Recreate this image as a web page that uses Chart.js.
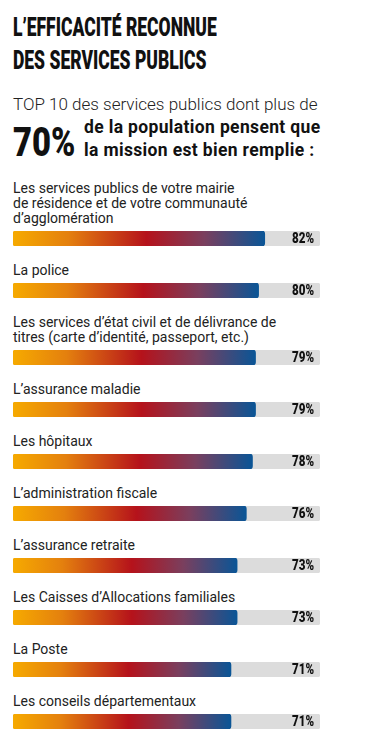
<!DOCTYPE html>
<html lang="fr">
<head>
<meta charset="utf-8">
<title>L’efficacité reconnue des services publics</title>
<script src="https://cdn.jsdelivr.net/npm/chart.js@4.4.1/dist/chart.umd.min.js"></script>
<style>
  body {
    margin: 0;
    padding: 11px 0 0 13px;
    background: #fff;
    color: #222;
    font-family: Roboto, "Noto Sans", sans-serif;
    width: 360px;
  }
  h1 {
    margin: 0;
    font-family: Roboto, sans-serif;
    font-weight: 900;
    font-size: 25px;
    line-height: 33px;
    color: #111;
    white-space: nowrap;
    transform: scaleX(0.7);
    transform-origin: left top;
  }
  .intro {
    margin: 17px 0 0 0;
    font-size: 17px;
    line-height: 20px;
    font-weight: 300;
    white-space: nowrap;
  }
  .big {
    position: relative;
    height: 47px;
  }
  .big .pct {
    position: absolute;
    left: 0;
    top: 8px;
    font-weight: 900;
    font-size: 41px;
    line-height: 41px;
    color: #111;
    transform: scaleX(0.8);
    transform-origin: left top;
  }
  .big .txt {
    position: absolute;
    left: 71px;
    top: 2px;
    font-weight: bold;
    font-size: 17.5px;
    line-height: 23px;
    letter-spacing: 0.35px;
    color: #111;
    white-space: nowrap;
  }
  #liste { margin-top: 20px; }
  .item { margin-bottom: 17px; }
  .label {
    font-size: 14px;
    line-height: 15px;
    white-space: nowrap;
  }
  .barre {
    position: relative;
    width: 307px;
    height: 15px;
    margin-top: 5px;
  }
</style>
</head>
<body>
<h1>L’EFFICACITÉ RECONNUE<br>DES SERVICES PUBLICS</h1>
<p class="intro">TOP 10 des services publics dont plus de</p>
<div class="big">
  <span class="pct">70%</span>
  <span class="txt">de la population pensent que<br>la mission est bien remplie :</span>
</div>
<div id="liste"></div>

<script>
// Données
const categories = [
  ["Les services publics de votre mairie", "de résidence et de votre communauté", "d’agglomération"],
  ["La police"],
  ["Les services d’état civil et de délivrance de", "titres (carte d’identité, passeport, etc.)"],
  ["L’assurance maladie"],
  ["Les hôpitaux"],
  ["L’administration fiscale"],
  ["L’assurance retraite"],
  ["Les Caisses d’Allocations familiales"],
  ["La Poste"],
  ["Les conseils départementaux"]
];
const valeurs = [82, 80, 79, 79, 78, 76, 73, 73, 71, 71];
const maximum = 100;

// Dégradé orange -> rouge -> bleu sur la longueur de la barre
function degrade(context) {
  const chart = context.chart;
  if (!chart.chartArea) return '#b5121b';
  const x0 = chart.scales.x.getPixelForValue(0);
  const x1 = chart.scales.x.getPixelForValue(context.raw);
  const g = chart.ctx.createLinearGradient(x0, 0, x1, 0);
  g.addColorStop(0, '#f6aa00');
  g.addColorStop(0.22, '#e4800e');
  g.addColorStop(0.53, '#b5121b');
  g.addColorStop(0.76, '#7a3f5e');
  g.addColorStop(1, '#0a5596');
  return g;
}

// Pourcentage à droite de la barre (police resserrée)
const etiquette = {
  id: 'etiquette',
  afterDatasetsDraw(chart) {
    const ctx = chart.ctx;
    const area = chart.chartArea;
    const v = chart.data.datasets[0].data[0];
    ctx.save();
    ctx.translate(area.right - 6, (area.top + area.bottom) / 2 + 0.5);
    ctx.scale(0.8, 1);
    ctx.font = '900 14.5px Roboto, sans-serif';
    ctx.fillStyle = '#111';
    ctx.textAlign = 'right';
    ctx.textBaseline = 'middle';
    ctx.fillText(v + '%', 0, 0);
    ctx.restore();
  }
};

const liste = document.getElementById('liste');

categories.forEach(function (lignes, i) {
  const item = document.createElement('div');
  item.className = 'item';
  const label = document.createElement('div');
  label.className = 'label';
  label.innerHTML = lignes.join('<br>');
  const barre = document.createElement('div');
  barre.className = 'barre';
  const canvas = document.createElement('canvas');
  barre.appendChild(canvas);
  item.appendChild(label);
  item.appendChild(barre);
  liste.appendChild(item);

  new Chart(canvas, {
    type: 'bar',
    data: {
      labels: [lignes.join(' ')],
      datasets: [{
        data: [valeurs[i]],
        backgroundColor: degrade,
        borderRadius: 3,
        borderSkipped: false,
        grouped: false,
        categoryPercentage: 1,
        barPercentage: 1
      }, {
        data: [maximum],
        backgroundColor: '#dcdcdc',
        borderRadius: 3,
        borderSkipped: false,
        grouped: false,
        categoryPercentage: 1,
        barPercentage: 1
      }]
    },
    options: {
      indexAxis: 'y',
      responsive: true,
      maintainAspectRatio: false,
      animation: false,
      layout: { padding: 0 },
      scales: {
        x: { display: false, min: 0, max: maximum },
        y: { display: false }
      },
      plugins: {
        legend: { display: false },
        tooltip: { enabled: false }
      }
    },
    plugins: [etiquette]
  });
});
</script>
</body>
</html>
